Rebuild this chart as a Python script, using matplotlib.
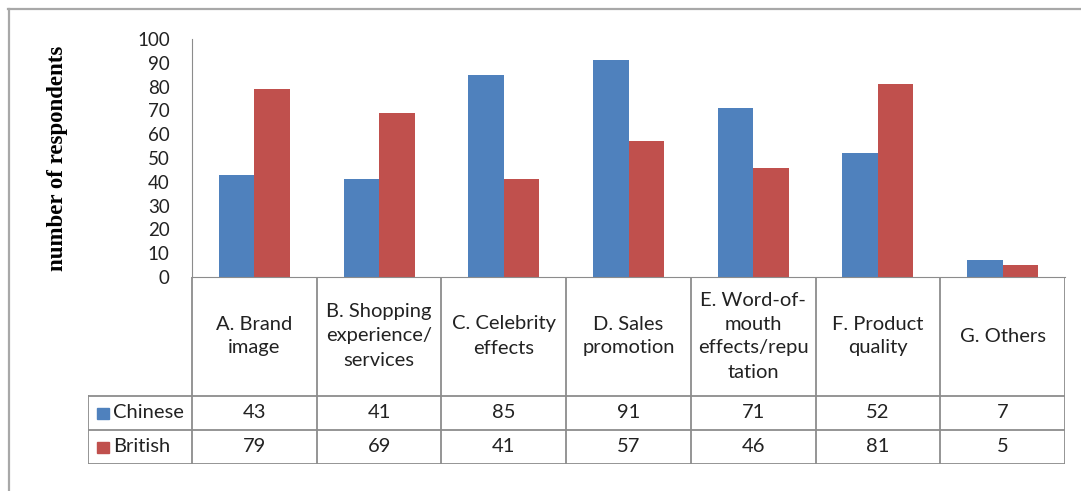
import matplotlib.pyplot as plt
from matplotlib.patches import Rectangle
import numpy as np

# данные опроса
categories = ['A. Brand\nimage', 'B. Shopping\nexperience/\nservices', 'C. Celebrity\neffects',
              'D. Sales\npromotion', 'E. Word-of-\nmouth\neffects/repu\ntation', 'F. Product\nquality',
              'G. Others']
series = ['Chinese', 'British']
chinese = [43, 41, 85, 91, 71, 52, 7]
british = [79, 69, 41, 57, 46, 81, 5]
colors = ['#4F81BD', '#C0504D']
yticks = list(range(0, 101, 10))

W, H = 1081, 491
fig = plt.figure(figsize=(W / 100, H / 100), dpi=100)
font = 'Lato'
grid_c = '#8c8c8c'


def box(x0, y0, x1, y1):
    # прямоугольник в пикселях (отсчет сверху) -> координаты фигуры
    return [x0 / W, 1 - y1 / H, (x1 - x0) / W, (y1 - y0) / H]


# рамка вокруг всей диаграммы
fig.add_artist(plt.Line2D([8 / W, 1], [1 - 9 / H, 1 - 9 / H], color='#a8a8a8', lw=1.6))
fig.add_artist(plt.Line2D([9 / W, 9 / W], [0, 1 - 9 / H], color='#a8a8a8', lw=1.6))

n = len(categories)
x = np.arange(n) + 0.5
bw = 0.285

# столбцы
ax = fig.add_axes(box(192, 39, 1065, 277))
ax.bar(x - bw / 2, chinese, bw, color=colors[0], zorder=2)
ax.bar(x + bw / 2, british, bw, color=colors[1], zorder=2)
ax.set_xlim(0, n)
ax.set_ylim(0, 100)
ax.set_yticks(yticks)
ax.set_yticklabels([str(t) for t in yticks], fontsize=13.5, family=font, color='#222222')
ax.tick_params(axis='y', length=0, pad=16)
ax.set_xticks([])
for s in ['top', 'right']:
    ax.spines[s].set_visible(False)
ax.spines['left'].set_color(grid_c)
ax.spines['bottom'].set_color(grid_c)
ax.set_ylabel('number of respondents', family='Liberation Serif', fontweight='bold',
              fontsize=16.5, labelpad=50)

# таблица данных под осью
left_w = (192 - 88) / ((1065 - 192) / n)
tb = fig.add_axes(box(88, 277, 1065, 464))
tb.set_xlim(-left_w, n)
tb.set_ylim(187, 0)
tb.axis('off')
lc = dict(color=grid_c, lw=1.3)
# вертикальные линии
for i in range(n + 1):
    tb.plot([i, i], [0, 187], **lc)
tb.plot([-left_w, -left_w], [119, 187], **lc)
# горизонтальные линии
for yy in [119, 153, 187]:
    tb.plot([-left_w, n], [yy, yy], **lc)

for i, c in enumerate(categories):
    tb.text(i + 0.5, 59, c, ha='center', va='center', fontsize=14.5, family=font,
            color='#222222', linespacing=1.5)

for r, (name, vals) in enumerate(zip(series, [chinese, british])):
    yc = 136 + r * 34
    for i, v in enumerate(vals):
        tb.text(i + 0.5, yc, str(v), ha='center', va='center', fontsize=14.5, family=font,
                color='#222222')
    tb.add_patch(Rectangle((-left_w + 0.075, yc - 5.5), 0.09, 11, color=colors[r]))
    tb.text(-left_w + 0.2, yc, name, ha='left', va='center', fontsize=14.5, family=font,
            color='#222222')

fig.savefig('out.png', dpi=100)
